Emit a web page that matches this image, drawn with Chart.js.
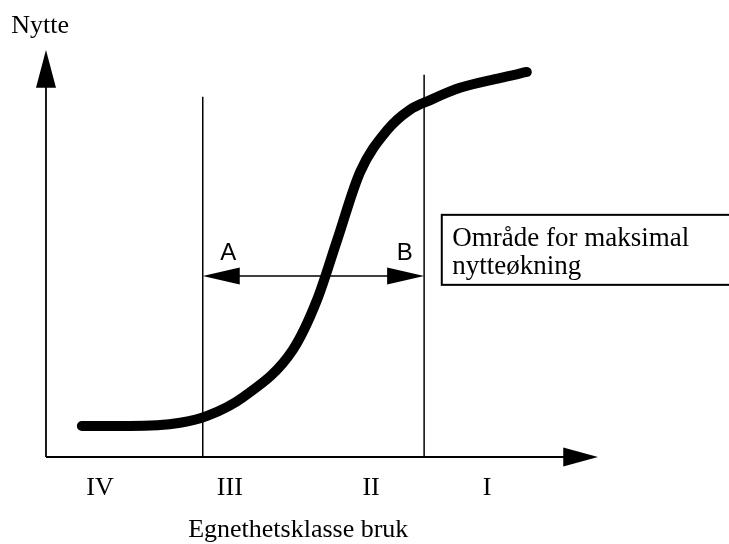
<!DOCTYPE html>
<html>
<head>
<meta charset="utf-8">
<script src="https://cdn.jsdelivr.net/npm/chart.js@4.4.1/dist/chart.umd.min.js"></script>
<style>
  html, body { margin: 0; padding: 0; background: #fff; }
  #wrap { width: 729px; height: 544px; }
</style>
</head>
<body>
<div id="wrap"><canvas id="chart"></canvas></div>
<script>
// S-kurve: nytte mot egnethet (0-100 på begge akser)
const curveX = [6.5, 15.2, 24.3, 29.2, 35.7, 44.7, 49.1, 52.7, 56.9, 61.8, 65.9, 69.6, 75.0, 82.2, 87.1];
const curveY = [7.6, 7.6, 8.4, 10.1, 14.7, 26.3, 38.6, 53.1, 70.0, 80.3, 85.3, 87.7, 90.7, 93.1, 94.6];

// grenser mellom klassene
const boundX = [28.4, 68.5];
const boundTop = [88.5, 93.9];

const classLabels = ['IV', 'III', 'II', 'I'];
const classX = [9.8, 33.3, 58.9, 79.9];

const rangeY = 44.5; // pil A-B
const xTitle = 'Egnethetsklasse bruk';
const yTitle = 'Nytte';
const boxText = ['Område for maksimal', 'nytteøkning'];

const serif = "'Liberation Serif', 'Times New Roman', serif";
const sans = "'Liberation Sans', Arial, sans-serif";

function seg(x0, y0, x1, y1, w) {
    return {
        data: [{ x: x0, y: y0 }, { x: x1, y: y1 }],
        borderColor: '#000',
        borderWidth: w,
        pointRadius: 0,
        showLine: true,
        clip: false
    };
}

const datasets = [
    seg(0, 0, 0, 92, 1.8),
    seg(0, 0, 95, 0, 1.8),
    seg(boundX[0], 0, boundX[0], boundTop[0], 1.5),
    seg(boundX[1], 0, boundX[1], boundTop[1], 1.5),
    seg(boundX[0] + 5, rangeY, boundX[1] - 5, rangeY, 1.5),
    {
        data: curveX.map((x, i) => ({ x: x, y: curveY[i] })),
        borderColor: '#000',
        borderWidth: 10,
        borderCapStyle: 'round',
        borderJoinStyle: 'round',
        pointRadius: 0,
        showLine: true,
        cubicInterpolationMode: 'monotone',
        clip: false
    }
];

function arrow(ctx, tx, ty, bx, by, half) {
    const dx = tx - bx, dy = ty - by;
    const len = Math.sqrt(dx * dx + dy * dy);
    const nx = -dy / len, ny = dx / len;
    ctx.beginPath();
    ctx.moveTo(tx, ty);
    ctx.lineTo(bx + nx * half, by + ny * half);
    ctx.lineTo(bx - nx * half, by - ny * half);
    ctx.closePath();
    ctx.fill();
}

const decor = {
    id: 'decor',
    afterDatasetsDraw(chart) {
        const ctx = chart.ctx;
        const xs = chart.scales.x, ys = chart.scales.y;
        const px = v => xs.getPixelForValue(v);
        const py = v => ys.getPixelForValue(v);
        ctx.save();
        ctx.fillStyle = '#000';
        ctx.strokeStyle = '#000';

        // pilspisser på aksene
        arrow(ctx, px(0), py(100), px(0), py(90.7), 10);
        arrow(ctx, px(100), py(0), px(93.7), py(0), 9.5);
        // pil A-B
        arrow(ctx, px(boundX[0]), py(rangeY), px(boundX[0] + 6.7), py(rangeY), 8.5);
        arrow(ctx, px(boundX[1]), py(rangeY), px(boundX[1] - 6.7), py(rangeY), 8.5);

        ctx.font = '24px ' + sans;
        ctx.textAlign = 'center';
        ctx.textBaseline = 'alphabetic';
        ctx.fillText('A', px(33.0), py(48.4));
        ctx.fillText('B', px(65.0), py(48.4));

        ctx.font = '26px ' + serif;
        classLabels.forEach((t, i) => ctx.fillText(t, px(classX[i]), py(-9.3)));
        ctx.fillText(xTitle, px(45.7), py(-19.7));
        ctx.textAlign = 'left';
        ctx.fillText(yTitle, px(-6.3), py(104.2));

        // boks
        ctx.lineWidth = 2;
        const bl = px(71.7), bt = py(59.5), bb = py(42.3);
        ctx.strokeRect(bl, bt, chart.width + 10 - bl, bb - bt);
        ctx.font = '27px ' + serif;
        ctx.fillText(boxText[0], px(73.6), py(51.8));
        ctx.fillText(boxText[1], px(73.6), py(45.0));
        ctx.restore();
    }
};

new Chart(document.getElementById('chart'), {
    type: 'scatter',
    data: { datasets: datasets },
    options: {
        responsive: true,
        maintainAspectRatio: false,
        animation: false,
        layout: { padding: 0 },
        plugins: { legend: { display: false }, tooltip: { enabled: false } },
        scales: {
            x: { type: 'linear', display: false, min: -8.33, max: 123.73 },
            y: { type: 'linear', display: false, min: -21.38, max: 112.29 }
        }
    },
    plugins: [decor]
});
</script>
</body>
</html>
